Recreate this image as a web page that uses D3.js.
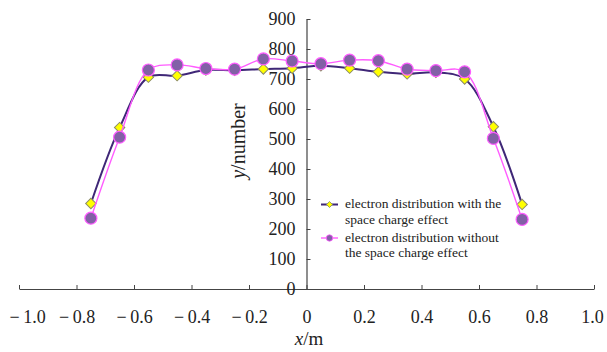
<!DOCTYPE html>
<html><head><meta charset="utf-8">
<script src="https://cdn.jsdelivr.net/npm/d3@7"></script>
<style>body{margin:0;background:#fff}svg{display:block}</style>
</head><body>
<svg id="c" width="607" height="352"></svg>
<script>
const xValues = [-0.75,-0.65,-0.55,-0.45,-0.35,-0.25,-0.15,-0.05,0.05,0.15,0.25,0.35,0.45,0.55,0.65,0.75];
const withSC    = [285,538,706,711,730,729,733,736,744,736,724,717,722,700,541,282];
const withoutSC = [236,506,730,747,735,733,767,760,751,763,761,733,728,724,502,232];
const xTicks = [-1.0,-0.8,-0.6,-0.4,-0.2,0,0.2,0.4,0.6,0.8,1.0];
const yTicks = [0,100,200,300,400,500,600,700,800,900];
const seriesNames = ["electron distribution with the|space charge effect","electron distribution without|the space charge effect"];

const svg = d3.select("#c");
const font = "'Liberation Serif','Times New Roman',serif";
const x = d3.scaleLinear().domain([-1,1]).range([19,594]);
const y = d3.scaleLinear().domain([0,900]).range([289,19]);
const axisColor = "#444";

// x axis
const gx = svg.append("g").attr("transform",`translate(0,${y(0)})`)
  .call(d3.axisBottom(x).tickValues(xTicks).tickSizeInner(-4).tickSizeOuter(0)
    .tickFormat(d => d===0 ? "0" : (d<0 ? "\u2212\u2009"+Math.abs(d).toFixed(1) : d.toFixed(1))));
gx.attr("font-family",null);
gx.select(".domain").attr("stroke",axisColor).attr("stroke-width",1.2);
gx.selectAll(".tick line").attr("stroke",axisColor);
gx.selectAll(".tick text").style("font-family",font).style("font-size","18px").attr("fill","#222").attr("y",21).attr("dy","0.71em")
  .attr("dx", d => d === -1 ? 8 : (d === 1 ? -2 : 0));

// y axis
const gy = svg.append("g").attr("transform",`translate(${x(0)},0)`)
  .call(d3.axisLeft(y).tickValues(yTicks).tickSizeInner(-4).tickSizeOuter(0).tickFormat(d3.format("d")));
gy.attr("font-family",null);
gy.select(".domain").attr("stroke",axisColor).attr("stroke-width",1.2);
gy.selectAll(".tick line").attr("stroke",axisColor);
gy.selectAll(".tick text").style("font-family",font).style("font-size","18px").attr("fill","#222").attr("x",-11);

// axis titles
const xt = svg.append("text").attr("x",309).attr("y",345).attr("text-anchor","middle")
  .style("font-family",font).style("font-size","19px").attr("fill","#222");
xt.append("tspan").attr("font-style","italic").text("x");
xt.append("tspan").text("/m");
const yt = svg.append("text").attr("transform","translate(245,141) rotate(-90)").attr("text-anchor","middle")
  .style("font-family",font).style("font-size","20px").attr("fill","#222");
yt.append("tspan").attr("font-style","italic").text("y");
yt.append("tspan").text("/number");

const curve = d3.curveCatmullRom.alpha(0.5);
const d1 = xValues.map((v,i)=>[v,withSC[i]]);
const d2 = xValues.map((v,i)=>[v,withoutSC[i]]);
const line = d3.line().x(d=>x(d[0])).y(d=>y(d[1])).curve(curve);

const c1 = "#3f2777", c2 = "#ff5cff";

svg.append("path").datum(d1).attr("d",line).attr("fill","none").attr("stroke",c1).attr("stroke-width",2);
svg.append("g").selectAll("path").data(d1).join("path")
  .attr("transform",d=>`translate(${x(d[0])},${y(d[1])}) rotate(45)`)
  .attr("d",d3.symbol().type(d3.symbolSquare).size(54))
  .attr("fill","#ffff00").attr("stroke","#8a8a6a").attr("stroke-width",1);

svg.append("path").datum(d2).attr("d",line).attr("fill","none").attr("stroke",c2).attr("stroke-width",1.4);
svg.append("g").selectAll("circle").data(d2).join("circle")
  .attr("cx",d=>x(d[0])).attr("cy",d=>y(d[1])).attr("r",6)
  .attr("fill","#8260a6").attr("stroke",c2).attr("stroke-width",1.2);

// legend
const lg = svg.append("g");
const entries = [
  {name:seriesNames[0], ly:204.5, color:c1, w:2, type:"d", base:[208,224]},
  {name:seriesNames[1], ly:238, color:c2, w:1.4, type:"c", base:[241.5,257]}
];
entries.forEach(e=>{
  lg.append("line").attr("x1",321).attr("x2",338).attr("y1",e.ly).attr("y2",e.ly).attr("stroke",e.color).attr("stroke-width",e.w);
  if(e.type==="d"){
    lg.append("path").attr("transform",`translate(329.5,${e.ly}) rotate(45)`).attr("d",d3.symbol().type(d3.symbolSquare).size(18))
      .attr("fill","#ffff00").attr("stroke","#8a8a6a").attr("stroke-width",0.8);
  } else {
    lg.append("circle").attr("cx",329.5).attr("cy",e.ly).attr("r",3.2).attr("fill","#8260a6").attr("stroke",c2).attr("stroke-width",0.8);
  }
  e.name.split("|").forEach((t,i)=>{
    lg.append("text").attr("x",345).attr("y",e.base[i]).style("font-family",font).style("font-size","13.5px").attr("fill","#222").text(t);
  });
});
</script>
</body></html>
